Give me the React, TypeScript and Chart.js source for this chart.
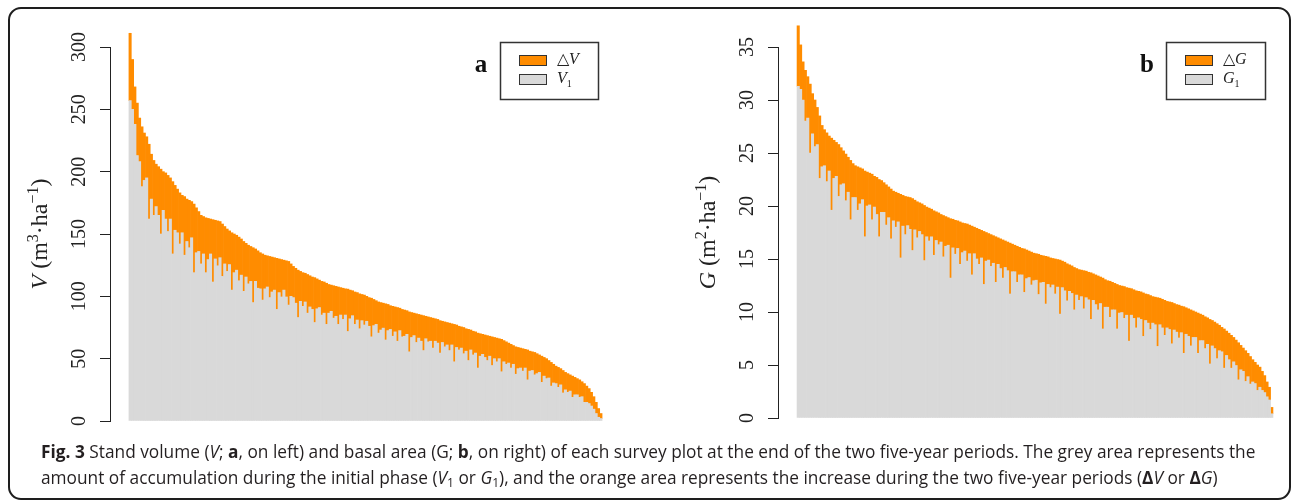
import React, { useEffect, useRef } from "react";
import { Chart, registerables } from "chart.js";

Chart.register(...registerables);

// ---------------- DATA ----------------
// Panel a: stand volume at end of period (V1 + ΔV) and increase ΔV, plots sorted by final volume
const volumeFinal = [
  311, 290, 268, 255, 243, 236, 231, 228, 222, 214,
  209, 206, 204, 202, 200, 199, 197, 195, 192, 189,
  186, 183, 181, 180, 178, 177, 176, 174, 171, 168,
  165, 164, 163, 162.5, 162, 161.5, 161, 160.5, 160, 158,
  156, 154, 152.5, 151, 150, 149, 147.5, 146, 144, 142.5,
  141, 140, 139, 138, 136.5, 135, 134, 133, 132.5, 132,
  131.5, 131, 130.5, 130, 129.5, 129, 128.5, 128, 126, 124,
  122.5, 121, 120, 119, 118.5, 117.5, 116.5, 115.5, 115, 114,
  113, 112, 111.5, 110.5, 109.5, 109, 108.5, 108, 107.5, 107,
  106.5, 106, 105.8, 105, 104.5, 103.5, 103, 102, 101.5, 101,
  100, 99, 98.5, 97.5, 96.5, 95.5, 95, 94.5, 94, 93.5,
  92.5, 92, 91.5, 91, 90.5, 89.5, 89, 88.5, 87.5, 87,
  86.5, 86, 85.5, 85, 84.5, 84, 83.5, 83, 82.5, 82,
  81.5, 80.5, 80, 79.5, 79, 78.5, 78, 77.5, 77, 76,
  75.5, 75, 74, 73.5, 73, 72, 71.5, 70.5, 70, 69.5,
  69, 68.5, 68, 67.5, 67, 66.5, 66, 65.5, 64.5, 63.5,
  62.5, 61.5, 60.5, 59.5, 59, 58.5, 58, 57.5, 57, 56,
  55.5, 55, 54, 53, 52, 51, 50, 48.5, 47, 45.5,
  44, 43, 42, 40.5, 39, 38, 37, 36, 35, 34,
  33, 31.5, 30, 28, 26, 23, 19.5, 15, 10, 6,
];
const volumeIncrease = [
  54, 40, 30, 42, 35, 48, 38, 33, 60, 36,
  44, 34, 39, 52, 31, 37, 45, 33, 58, 36,
  35, 41, 30, 47, 34, 38, 29, 55, 36, 32,
  39, 30, 44, 33, 28, 50, 31, 36, 29, 42,
  30, 34, 27, 46, 31, 28, 35, 29, 40, 27,
  31, 28, 44, 26, 30, 29, 37, 27, 25, 33,
  28, 26, 41, 27, 30, 24, 29, 35, 26, 25,
  28, 38, 24, 27, 23, 31, 25, 26, 36, 24,
  22, 27, 25, 33, 23, 21, 26, 24, 30, 22,
  25, 21, 34, 23, 20, 26, 22, 28, 21, 24,
  20, 23, 31, 21, 19, 25, 22, 20, 29, 21,
  19, 24, 20, 27, 18, 22, 21, 19, 32, 20,
  18, 23, 19, 21, 28, 18, 20, 19, 24, 18,
  19, 26, 17, 20, 18, 22, 17, 30, 18, 19,
  17, 21, 18, 25, 16, 19, 17, 28, 18, 16,
  18, 20, 16, 23, 17, 19, 16, 26, 17, 18,
  16, 19, 15, 22, 17, 16, 18, 15, 24, 16,
  15, 18, 16, 14, 21, 15, 16, 14, 19, 15,
  14, 16, 13, 18, 14, 15, 13, 17, 14, 13,
  14, 12, 15, 13, 12, 11, 10, 9, 7, 4,
];

// Panel b: basal area at end of period (G1 + ΔG) and increase ΔG
const basalFinal = [
  37.0, 35.2, 33.6, 32.8, 32.2, 31.5, 30.6, 30.0, 29.3, 28.5,
  27.6, 27.2, 26.9, 26.6, 26.4, 26.2, 26.0, 25.8, 25.5, 25.2,
  24.9, 24.6, 24.3, 24.0, 23.8, 23.7, 23.6, 23.5, 23.3, 23.2,
  23.1, 23.0, 22.8, 22.7, 22.5, 22.4, 22.2, 22.0, 21.8, 21.6,
  21.4, 21.3, 21.2, 21.1, 21.0, 20.9, 20.85, 20.8, 20.7, 20.55,
  20.4, 20.3, 20.2, 20.05, 19.9, 19.8, 19.7, 19.55, 19.45, 19.35,
  19.2, 19.1, 19.0, 18.9, 18.8, 18.75, 18.65, 18.6, 18.5, 18.4,
  18.35, 18.3, 18.2, 18.1, 18.0, 17.9, 17.8, 17.7, 17.6, 17.5,
  17.4, 17.3, 17.2, 17.1, 17.0, 16.9, 16.8, 16.7, 16.6, 16.5,
  16.4, 16.3, 16.2, 16.1, 16.0, 15.95, 15.85, 15.75, 15.65, 15.55,
  15.5, 15.45, 15.35, 15.3, 15.25, 15.2, 15.1, 15.05, 15.0, 14.95,
  14.9, 14.8, 14.7, 14.55, 14.45, 14.35, 14.2, 14.1, 14.0, 13.95,
  13.9, 13.85, 13.75, 13.7, 13.6, 13.5, 13.4, 13.3, 13.2, 13.05,
  12.95, 12.9, 12.8, 12.7, 12.6, 12.5, 12.45, 12.4, 12.3, 12.25,
  12.2, 12.1, 12.0, 11.95, 11.9, 11.8, 11.7, 11.65, 11.55, 11.45,
  11.4, 11.35, 11.3, 11.2, 11.1, 11.0, 10.95, 10.9, 10.8, 10.7,
  10.65, 10.55, 10.5, 10.4, 10.3, 10.2, 10.1, 10.0, 9.9, 9.8,
  9.7, 9.55, 9.45, 9.3, 9.2, 9.05, 8.9, 8.75, 8.55, 8.4,
  8.2, 8.0, 7.8, 7.6, 7.35, 7.1, 6.85, 6.6, 6.35, 6.1,
  5.8, 5.5, 5.25, 5.0, 4.8, 4.4, 4.0, 3.4, 2.9, 1.0,
];
const basalIncrease = [
  5.7, 4.2, 3.6, 4.8, 3.9, 6.5, 3.8, 4.4, 3.5, 5.9,
  3.9, 3.4, 4.6, 3.3, 6.8, 3.6, 3.2, 4.9, 3.5, 3.1,
  4.4, 3.3, 5.6, 3.2, 3.0, 4.1, 3.4, 2.9, 6.2, 3.2,
  3.0, 4.3, 2.9, 3.5, 5.4, 3.0, 2.8, 3.8, 2.9, 4.7,
  2.8, 3.3, 2.7, 6.0, 2.9, 3.6, 2.7, 3.0, 4.9, 2.8,
  3.4, 2.7, 2.9, 5.2, 2.8, 3.1, 2.6, 4.2, 2.7, 3.0,
  2.6, 3.9, 2.8, 2.6, 5.6, 2.7, 3.2, 2.6, 4.0, 2.8,
  2.6, 3.5, 2.7, 4.6, 2.5, 2.9, 3.3, 2.6, 5.0, 2.7,
  2.5, 3.0, 2.6, 4.3, 2.5, 2.8, 3.6, 2.5, 2.7, 4.8,
  2.6, 2.5, 3.4, 2.6, 2.5, 4.1, 2.7, 2.5, 3.1, 2.6,
  2.5, 3.8, 2.6, 2.5, 4.5, 2.6, 2.8, 2.5, 3.3, 2.6,
  5.1, 2.5, 2.7, 3.5, 2.5, 2.6, 4.0, 2.5, 2.9, 2.5,
  3.6, 2.5, 2.6, 4.4, 2.5, 2.8, 3.2, 2.5, 4.8, 2.6,
  2.5, 3.4, 2.6, 2.5, 4.2, 2.6, 2.5, 3.0, 2.6, 5.0,
  2.5, 2.7, 3.5, 2.5, 2.6, 4.1, 2.5, 2.7, 3.2, 2.5,
  2.6, 4.6, 2.5, 2.7, 3.3, 2.5, 2.6, 3.9, 2.5, 2.6,
  3.1, 2.5, 4.4, 2.5, 2.6, 3.4, 2.5, 2.4, 3.8, 2.5,
  2.4, 3.0, 2.5, 4.2, 2.4, 2.5, 3.3, 2.4, 2.3, 3.7,
  2.3, 2.5, 3.1, 2.3, 2.4, 3.5, 2.3, 2.2, 2.9, 2.2,
  2.6, 2.1, 2.0, 2.4, 1.9, 1.8, 1.6, 1.4, 1.2, 0.6,
];

const volumeTickValues = [0, 50, 100, 150, 200, 250, 300];
const basalTickValues = [0, 5, 10, 15, 20, 25, 30, 35];

const increaseColor = "#FF8C00";
const initialColor = "#D9D9D9";
const inkColor = "#222222";

type Seg = { t: string; italic?: boolean; bold?: boolean; sup?: boolean; sub?: boolean };

const volumeTitle: Seg[] = [
  { t: "V", italic: true }, { t: " (m" }, { t: "3", sup: true }, { t: "·ha" }, { t: "−1", sup: true }, { t: ")" },
];
const basalTitle: Seg[] = [
  { t: "G", italic: true }, { t: " (m" }, { t: "2", sup: true }, { t: "·ha" }, { t: "−1", sup: true }, { t: ")" },
];
const volumeIncLabel: Seg[] = [{ t: "△" }, { t: "V", italic: true }];
const volumeInitLabel: Seg[] = [{ t: "V", italic: true }, { t: "1", sub: true }];
const basalIncLabel: Seg[] = [{ t: "△" }, { t: "G", italic: true }];
const basalInitLabel: Seg[] = [{ t: "G", italic: true }, { t: "1", sub: true }];

const SERIF = "'Liberation Serif', 'Times New Roman', serif";

function segFont(s: Seg, size: number) {
  const sz = s.sup || s.sub ? Math.round(size * 0.65) : size;
  return `${s.italic ? "italic " : ""}${s.bold ? "bold " : ""}${sz}px ${SERIF}`;
}

function drawSegs(ctx: CanvasRenderingContext2D, segs: Seg[], size: number, x: number, y: number, center: boolean) {
  let total = 0;
  const widths = segs.map((s) => {
    ctx.font = segFont(s, size);
    const w = ctx.measureText(s.t).width;
    total += w;
    return w;
  });
  let cx = center ? x - total / 2 : x;
  ctx.textAlign = "left";
  ctx.textBaseline = "middle";
  segs.forEach((s, i) => {
    ctx.font = segFont(s, size);
    const dy = s.sup ? -size * 0.3 : s.sub ? size * 0.32 : 0;
    ctx.fillText(s.t, cx, y + dy);
    cx += widths[i];
  });
}

type Panel = {
  id: string;
  letter: string;
  final: number[];
  increase: number[];
  ticks: number[];
  title: Seg[];
  incLabel: Seg[];
  initLabel: Seg[];
  incName: string;
  initName: string;
  left: number;
  width: number;
  axisWidth: number;
  padRight: number;
  tickPad: number;
  titleX: number;
  legendInset: number;
  legendW: number;
};

const panels: Panel[] = [
  {
    id: "a", letter: "a", final: volumeFinal, increase: volumeIncrease, ticks: volumeTickValues,
    title: volumeTitle, incLabel: volumeIncLabel, initLabel: volumeInitLabel, incName: "ΔV", initName: "V1",
    left: 0, width: 640, axisWidth: 110, padRight: 19, tickPad: 5, titleX: 41, legendInset: 23, legendW: 98,
  },
  {
    id: "b", letter: "b", final: basalFinal, increase: basalIncrease, ticks: basalTickValues,
    title: basalTitle, incLabel: basalIncLabel, initLabel: basalInitLabel, incName: "ΔG", initName: "G1",
    left: 646, width: 646, axisWidth: 132, padRight: 0, tickPad: 10, titleX: 63, legendInset: 27, legendW: 99,
  },
];

const CANVAS_H = 440;

function PanelChart({ p }: { p: Panel }) {
  const ref = useRef<HTMLCanvasElement | null>(null);
  useEffect(() => {
    if (!ref.current) return;
    const n = p.final.length;
    const rank = p.final.map((_, i) => i + 1);
    const initial = p.final.map((v, i) => Math.max(0, +(v - p.increase[i]).toFixed(3)));
    const margin = 0.04 * n;

    const decor = {
      id: "decor" + p.id,
      afterDraw(chart: any) {
        const ctx: CanvasRenderingContext2D = chart.ctx;
        const ca = chart.chartArea;
        ctx.save();
        ctx.fillStyle = inkColor;
        // y-axis title (rotated)
        ctx.save();
        ctx.translate(p.titleX, (ca.top + ca.bottom) / 2);
        ctx.rotate(-Math.PI / 2);
        drawSegs(ctx, p.title, 24, 0, 0, true);
        ctx.restore();
        // legend frame
        const fw = p.legendW;
        const fh = 57;
        const fx = ca.right - p.legendInset - fw;
        const fy = ca.top - 5;
        ctx.strokeStyle = "#333";
        ctx.lineWidth = 1.5;
        ctx.strokeRect(fx + 0.5, fy + 0.5, fw, fh);
        // legend entries
        const rows = [
          { color: increaseColor, segs: p.incLabel, cy: fy + 18 },
          { color: initialColor, segs: p.initLabel, cy: fy + 37 },
        ];
        rows.forEach((r) => {
          ctx.fillStyle = r.color;
          ctx.fillRect(fx + 19, r.cy - 5, 27, 10);
          ctx.strokeStyle = "#333";
          ctx.lineWidth = 1;
          ctx.strokeRect(fx + 19.5, r.cy - 4.5, 27, 10);
          ctx.fillStyle = inkColor;
          drawSegs(ctx, r.segs, 16, fx + 57, r.cy, false);
        });
        // panel letter
        ctx.fillStyle = "#111";
        ctx.font = `bold 25px ${SERIF}`;
        ctx.textAlign = "center";
        ctx.textBaseline = "middle";
        ctx.fillText(p.letter, fx - 19, fy + 24);
        ctx.restore();
      },
    };

    const chart = new Chart(ref.current, {
      type: "bar",
      data: {
        labels: rank,
        datasets: [
          { label: p.initName, data: initial, backgroundColor: initialColor, borderWidth: 0, clip: false } as any,
          { label: p.incName, data: p.increase, backgroundColor: increaseColor, borderWidth: 0, clip: false } as any,
        ],
      },
      options: {
        responsive: false,
        animation: false,
        events: [],
        layout: { padding: { top: 47, bottom: 19, left: 0, right: p.padRight } },
        datasets: { bar: { barPercentage: 1, categoryPercentage: 1 } },
        plugins: { legend: { display: false }, tooltip: { enabled: false }, title: { display: false } },
        scales: {
          x: {
            type: "linear",
            stacked: true,
            display: false,
            min: 0.5 - margin,
            max: n + 0.5 + margin,
            offset: false,
          },
          y: {
            stacked: true,
            min: 0,
            max: p.ticks[p.ticks.length - 1],
            afterFit: (s: any) => { s.width = p.axisWidth; },
            afterBuildTicks: (s: any) => { s.ticks = p.ticks.map((v) => ({ value: v })); },
            border: { display: true, color: inkColor, width: 1 },
            grid: { drawOnChartArea: false, drawTicks: true, tickLength: 10, tickColor: inkColor, lineWidth: 1 },
            ticks: {
              minRotation: 90,
              maxRotation: 90,
              crossAlign: "center",
              padding: p.tickPad,
              color: inkColor,
              font: { family: SERIF, size: 20 },
            },
          },
        },
      } as any,
      plugins: [decor],
    });
    return () => chart.destroy();
  }, [p]);
  return (
    <canvas
      ref={ref}
      width={p.width}
      height={CANVAS_H}
      style={{ position: "absolute", left: p.left, top: 0, width: p.width, height: CANVAS_H }}
    />
  );
}

const subStyle: React.CSSProperties = { fontSize: "0.7em", verticalAlign: "-0.25em", lineHeight: 0 };

export default function App() {
  return (
    <div style={{ position: "fixed", left: 0, top: 0, width: 1292, height: 500, background: "#fff", overflow: "hidden" }}>
      <div
        style={{
          position: "absolute", left: 8, top: 7, width: 1283, height: 493, boxSizing: "border-box",
          border: "2px solid #1e1e1e", borderRadius: 13,
        }}
      />
      {panels.map((p) => (
        <PanelChart key={p.id} p={p} />
      ))}
      <div
        style={{
          position: "absolute", left: 41, top: 439, fontFamily: "'Open Sans', sans-serif", fontSize: 17.3,
          lineHeight: "26px", whiteSpace: "nowrap", color: "#231f20",
        }}
      >
        <b>Fig. 3</b> Stand volume (<i>V</i>; <b>a</b>, on left) and basal area (G; <b>b</b>, on right) of each survey plot at the end of the two five-year periods. The grey area represents the
        <br />
        amount of accumulation during the initial phase (<i>V</i><span style={subStyle}>1</span> or <i>G</i><span style={subStyle}>1</span>), and the orange area represents the increase during the two five-year periods (<b>Δ</b><i>V</i> or <b>Δ</b><i>G</i>)
      </div>
    </div>
  );
}
